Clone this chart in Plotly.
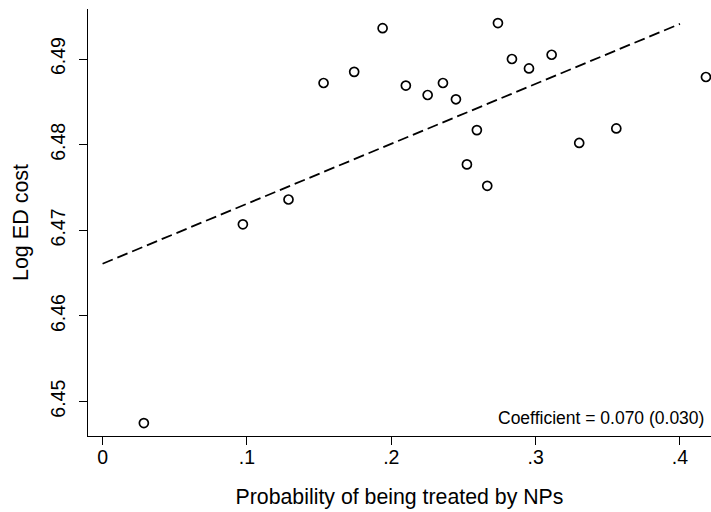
import plotly.graph_objects as go

# Binned scatter points (probability of being treated by NPs vs log ED cost)
x_bins = [0.0286, 0.0972, 0.1288, 0.1531, 0.1743, 0.1940, 0.2101, 0.2252, 0.2358,
          0.2448, 0.2524, 0.2593, 0.2665, 0.2739, 0.2836, 0.2954, 0.3111, 0.3302,
          0.3559, 0.4180]
y_bins = [6.4475, 6.4707, 6.4736, 6.4872, 6.4885, 6.4936, 6.4869, 6.4858, 6.4872,
          6.4853, 6.4777, 6.4817, 6.4752, 6.4942, 6.4900, 6.4889, 6.4905, 6.4802,
          6.4819, 6.4879]

# Fitted line endpoints
x_fit = [0.0, 0.4]
y_fit = [6.4661, 6.4941]

x_tickvals = [0, 0.1, 0.2, 0.3, 0.4]
x_ticktext = ["0", ".1", ".2", ".3", ".4"]
y_tickvals = [6.45, 6.46, 6.47, 6.48, 6.49]
y_ticktext = ["6.45", "6.46", "6.47", "6.48", "6.49"]

FONT = "Liberation Sans, Arial, sans-serif"

fig = go.Figure()
fig.add_trace(go.Scatter(
    x=x_fit, y=y_fit, mode="lines",
    line=dict(color="black", width=1.8, dash="11px,5px"),
    hoverinfo="skip", showlegend=False))
fig.add_trace(go.Scatter(
    x=x_bins, y=y_bins, mode="markers",
    marker=dict(symbol="circle-open", size=9, color="black",
                line=dict(color="black", width=1.7)),
    showlegend=False))

fig.add_annotation(
    text="Coefficient = 0.070 (0.030)", xref="paper", yref="paper",
    x=0.992, y=0.0415, xanchor="right", yanchor="middle", showarrow=False,
    font=dict(family=FONT, size=17.5, color="black"))

fig.update_layout(
    width=711, height=512,
    margin=dict(l=88, r=0, t=9, b=76, autoexpand=False),
    paper_bgcolor="white", plot_bgcolor="white",
    font=dict(family=FONT, color="black"),
    xaxis=dict(
        range=[-0.0101, 0.4215], showgrid=False, zeroline=False,
        showline=True, linecolor="black", linewidth=1.3,
        ticks="outside", ticklen=8, tickwidth=1.3, tickcolor="black",
        tickvals=x_tickvals, ticktext=x_ticktext, ticklabelstandoff=-5,
        tickfont=dict(family=FONT, size=19.5, color="black"),
        title=dict(text="Probability of being treated by NPs",
                   font=dict(family=FONT, size=21.3, color="black"), standoff=22),
        automargin=False),
    yaxis=dict(
        range=[6.44599, 6.49584], showgrid=False, zeroline=False,
        showline=True, linecolor="black", linewidth=1.3,
        ticks="outside", ticklen=8, tickwidth=1.3, tickcolor="black",
        tickvals=y_tickvals, ticktext=y_ticktext, tickangle=-90,
        ticklabelstandoff=6,
        tickfont=dict(family=FONT, size=19.5, color="black"),
        title=dict(text="Log ED cost",
                   font=dict(family=FONT, size=21.5, color="black"), standoff=12),
        automargin=False),
)

fig.write_html("out.html")
